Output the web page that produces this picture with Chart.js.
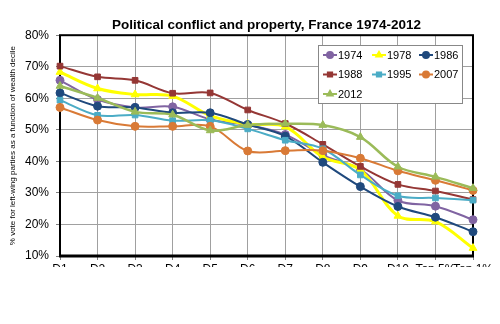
<!DOCTYPE html>
<html>
<head>
<meta charset="utf-8">
<script src="https://cdn.jsdelivr.net/npm/chart.js@4"></script>
<style>
  body { margin: 0; background: #fff; }
  #clip { width: 500px; height: 267px; overflow: hidden; position: relative; }
  #box { width: 500px; height: 300px; }
</style>
</head>
<body>
<div id="clip"><div id="box"><canvas id="myChart"></canvas></div></div>
<script>
// categorias (deciles de riqueza)
var labels = ['D1', 'D2', 'D3', 'D4', 'D5', 'D6', 'D7', 'D8', 'D9', 'D10', 'Top 5%', 'Top 1%'];

// voto por la izquierda (%)
var v1974 = [65.7, 59.6, 57.1, 57.3, 53.3, 51.5, 48.5, 42.0, 37.5, 27.6, 25.8, 21.5];
var v1978 = [68.3, 63.1, 61.2, 60.7, 54.5, 51.8, 51.0, 41.4, 37.3, 22.7, 20.9, 12.5];
var v1986 = [61.7, 57.5, 57.1, 55.4, 55.4, 51.7, 48.0, 39.7, 32.0, 25.7, 22.3, 17.7];
var v1988 = [70.2, 66.8, 65.7, 61.6, 61.7, 56.3, 52.0, 45.4, 38.4, 32.7, 30.6, 27.9];
var v1995 = [59.4, 54.6, 54.7, 52.9, 53.0, 50.3, 46.7, 44.0, 35.7, 29.1, 28.4, 27.7];
var v2007 = [57.1, 53.1, 51.1, 51.1, 51.1, 43.3, 43.4, 43.4, 41.0, 37.0, 34.0, 30.8];
var v2012 = [63.9, 60.1, 55.7, 54.8, 49.8, 51.5, 51.9, 51.5, 47.7, 38.3, 35.1, 31.5];

var yTicks = [10, 20, 30, 40, 50, 60, 70, 80];

var FONT = "'Liberation Sans', Arial, sans-serif";

function serie(name, data, color, style, width) {
    return {
        label: name,
        data: data,
        borderColor: color,
        backgroundColor: color,
        borderWidth: width || 2,
        pointStyle: style,
        pointRadius: style === 'triangle' ? 4.5 : 4,
        pointBorderWidth: 1,
        tension: 0.35,
        fill: false
    };
}

var datasets = [
    serie('1974', v1974, '#8064A2', 'circle'),
    serie('1978', v1978, '#FFFF00', 'triangle', 3),
    serie('1986', v1986, '#1F497D', 'circle'),
    serie('1988', v1988, '#953735', 'rect'),
    serie('1995', v1995, '#4BACC6', 'rect'),
    serie('2007', v2007, '#D97A36', 'circle'),
    serie('2012', v2012, '#9BBB59', 'triangle', 2.5)
];
// 2012 encima, como en el original
datasets.forEach(function (d, i) { d.order = datasets.length - i; });

// marco negro del area de trazado
var frame = {
    id: 'frame',
    beforeDatasetsDraw: function (chart) {
        var a = chart.chartArea, c = chart.ctx;
        c.save();
        c.strokeStyle = '#000';
        c.lineWidth = 2;
        c.strokeRect(a.left, a.top, a.right - a.left, a.bottom - a.top);
        c.lineWidth = 3;
        c.beginPath();
        c.moveTo(a.left - 1, a.bottom);
        c.lineTo(a.right + 1, a.bottom);
        c.stroke();
        c.restore();
    }
};

// leyenda dentro del grafico, 3 columnas
var boxLegend = {
    id: 'boxLegend',
    afterDraw: function (chart) {
        var c = chart.ctx;
        var bx = 318, by = 45, bw = 144, bh = 58;
        c.save();
        c.fillStyle = '#fff';
        c.fillRect(bx, by, bw, bh);
        c.strokeStyle = '#888';
        c.lineWidth = 1;
        c.strokeRect(bx + 0.5, by + 0.5, bw, bh);
        var cols = [323, 372, 419];
        var rows = [55, 74.5, 94];
        c.font = '11px ' + FONT;
        c.textBaseline = 'middle';
        chart.data.datasets.forEach(function (d, i) {
            var x = cols[i % 3], y = rows[Math.floor(i / 3)];
            c.strokeStyle = d.borderColor;
            c.lineWidth = 2;
            c.beginPath();
            c.moveTo(x, y);
            c.lineTo(x + 14, y);
            c.stroke();
            c.fillStyle = d.backgroundColor;
            Chart.helpers.drawPoint(c, {
                pointStyle: d.pointStyle, radius: 3, rotation: 0, borderWidth: 1
            }, x + 7, y);
            c.fillStyle = '#000';
            c.fillText(d.label, x + 15, y + 0.5);
        });
        c.restore();
    }
};

var ctx = document.getElementById('myChart').getContext('2d');
var myChart = new Chart(ctx, {
    type: 'line',
    data: { labels: labels, datasets: datasets },
    options: {
        responsive: true,
        maintainAspectRatio: false,
        animation: false,
        layout: { padding: { left: 0, right: 27, top: 0, bottom: 0 } },
        plugins: {
            legend: { display: false },
            tooltip: { enabled: false },
            title: {
                display: true,
                fullSize: false,
                text: 'Political conflict and property, France 1974-2012',
                color: '#000',
                font: { family: FONT, size: 13.5, weight: 'bold' },
                padding: { top: 17, bottom: 2 }
            }
        },
        scales: {
            x: {
                grid: { color: '#a0a0a0', lineWidth: 1, tickLength: 4, tickColor: '#808080' },
                border: { display: false },
                ticks: {
                    color: '#000',
                    font: { family: FONT, size: 12 },
                    maxRotation: 0,
                    autoSkip: false,
                    padding: 2
                },
                afterFit: function (s) { s.height = 44; }
            },
            y: {
                min: 10,
                max: 80,
                afterBuildTicks: function (s) {
                    s.ticks = yTicks.map(function (v) { return { value: v }; });
                },
                grid: { color: '#a0a0a0', lineWidth: 1, tickLength: 4, tickColor: '#808080' },
                border: { display: false },
                ticks: {
                    color: '#000',
                    font: { family: FONT, size: 12 },
                    padding: 7,
                    callback: function (v) { return v + '%'; }
                },
                title: {
                    display: true,
                    text: '% vote for left-wing parties as a function of wealth decile',
                    color: '#000',
                    font: { family: FONT, size: 8 },
                    padding: { top: 8, bottom: 0 }
                },
                afterFit: function (s) { s.width = 60; }
            }
        }
    },
    plugins: [frame, boxLegend]
});
</script>
</body>
</html>
